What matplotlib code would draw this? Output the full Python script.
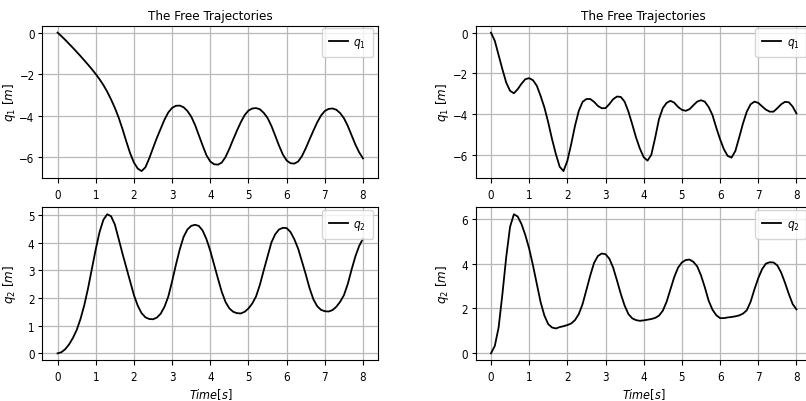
import numpy as np
import matplotlib
matplotlib.use("Agg")
import matplotlib.pyplot as plt

plt.rcParams['font.family'] = ['DejaVu Sans']
plt.rcParams['font.stretch'] = 'condensed'
plt.rcParams['mathtext.fontset'] = 'dejavusans'

# sample times [s]
time = np.round(np.arange(81) * 0.1, 1)

left_q1 = [0.00, -0.17, -0.35, -0.54, -0.73, -0.93, -1.13, -1.34, -1.55, -1.77,
           -2.00, -2.25, -2.53, -2.85, -3.22, -3.63, -4.10, -4.65, -5.25, -5.82,
           -6.27, -6.56, -6.68, -6.50, -6.07, -5.57, -5.08, -4.64, -4.20, -3.85,
           -3.63, -3.53, -3.52, -3.60, -3.78, -4.05, -4.45, -4.95, -5.45, -5.92,
           -6.22, -6.35, -6.37, -6.27, -6.00, -5.60, -5.15, -4.72, -4.32, -3.98,
           -3.76, -3.66, -3.64, -3.70, -3.87, -4.12, -4.50, -4.97, -5.45, -5.88,
           -6.17, -6.30, -6.32, -6.22, -5.96, -5.58, -5.15, -4.73, -4.33, -4.00,
           -3.78, -3.68, -3.66, -3.72, -3.88, -4.13, -4.50, -4.95, -5.40, -5.78,
           -6.07]

left_q2 = [0.00, 0.04, 0.15, 0.32, 0.55, 0.84, 1.24, 1.74, 2.36, 3.06,
           3.76, 4.38, 4.82, 5.02, 4.95, 4.65, 4.13, 3.60, 3.10, 2.60,
           2.10, 1.72, 1.45, 1.30, 1.24, 1.23, 1.29, 1.43, 1.68, 2.05,
           2.60, 3.20, 3.75, 4.20, 4.47, 4.60, 4.64, 4.60, 4.43, 4.12,
           3.70, 3.20, 2.70, 2.22, 1.85, 1.62, 1.50, 1.45, 1.44, 1.50,
           1.62, 1.80, 2.06, 2.48, 3.00, 3.50, 4.00, 4.30, 4.47, 4.53,
           4.52, 4.38, 4.12, 3.78, 3.32, 2.85, 2.35, 1.95, 1.70, 1.57,
           1.52, 1.51, 1.56, 1.68, 1.86, 2.10, 2.50, 3.02, 3.50, 3.88,
           4.14]

right_q1 = [0.00, -0.40, -1.10, -1.80, -2.45, -2.85, -2.97, -2.77, -2.50, -2.28,
            -2.23, -2.33, -2.60, -3.10, -3.67, -4.40, -5.22, -5.95, -6.57, -6.78,
            -6.28, -5.47, -4.57, -3.83, -3.39, -3.25, -3.25, -3.39, -3.59, -3.70,
            -3.70, -3.50, -3.26, -3.13, -3.15, -3.38, -3.87, -4.49, -5.14, -5.68,
            -6.10, -6.27, -5.98, -5.15, -4.24, -3.70, -3.44, -3.34, -3.43, -3.64,
            -3.78, -3.83, -3.75, -3.56, -3.38, -3.31, -3.38, -3.64, -4.03, -4.65,
            -5.22, -5.71, -6.04, -6.12, -5.80, -5.14, -4.45, -3.87, -3.51, -3.38,
            -3.44, -3.61, -3.77, -3.87, -3.87, -3.70, -3.51, -3.39, -3.41, -3.62,
            -3.96]

right_q2 = [0.00, 0.33, 1.15, 2.65, 4.30, 5.64, 6.20, 6.10, 5.76, 5.27,
            4.67, 3.92, 3.10, 2.28, 1.68, 1.30, 1.15, 1.11, 1.17, 1.21,
            1.26, 1.33, 1.48, 1.75, 2.20, 2.83, 3.47, 4.03, 4.34, 4.45,
            4.42, 4.22, 3.82, 3.25, 2.65, 2.13, 1.75, 1.56, 1.48, 1.45,
            1.47, 1.50, 1.53, 1.58, 1.68, 1.90, 2.30, 2.85, 3.40, 3.82,
            4.05, 4.16, 4.18, 4.08, 3.88, 3.48, 2.95, 2.35, 1.95, 1.70,
            1.57, 1.57, 1.60, 1.62, 1.65, 1.69, 1.77, 1.92, 2.30, 2.85,
            3.35, 3.75, 4.00, 4.06, 4.05, 3.92, 3.60, 3.15, 2.65, 2.20,
            1.96]

title = "The Free Trajectories"
label_q1 = r"$q_1$"
label_q2 = r"$q_2$"
ylabel_q1 = r"$q_1\ [m]$"
ylabel_q2 = r"$q_2\ [m]$"
xlabel = r"$Time[s]$"
xticks = [0, 1, 2, 3, 4, 5, 6, 7, 8]

W, H = 806, 402
fig = plt.figure(figsize=(W / 100, H / 100), dpi=100)

AX_W = 336.0
AX_H_TOP = 152.3

def ax_at(x0, y0, x1, y1):
    return fig.add_axes([x0 / W, 1 - y1 / H, (x1 - x0) / W, (y1 - y0) / H])

ax_tl = ax_at(42.3, 26.7, 378.3, 179.0)
ax_bl = ax_at(42.3, 208.3, 378.3, 361.3)
ax_tr = ax_at(475.7, 26.7, 811.7, 179.0)
ax_br = ax_at(475.7, 208.3, 811.7, 361.3)

panels = [
    (ax_tl, left_q1, label_q1, ylabel_q1, True),
    (ax_bl, left_q2, label_q2, ylabel_q2, False),
    (ax_tr, right_q1, label_q1, ylabel_q1, True),
    (ax_br, right_q2, label_q2, ylabel_q2, False),
]

for ax, data, lab, ylab, top in panels:
    ax.plot(time, data, color='black', lw=1.3, label=lab)
    ax.grid(True, color='#b8b8b8', lw=0.9)
    ax.set_xticks(xticks)
    ax.tick_params(labelsize=8.3)
    ax.tick_params(axis='y', length=3.0, pad=2.6)
    ax.set_ylabel(ylab, fontsize=9.5)
    ax.yaxis.set_label_coords((18.0 - 42.3) / AX_W, 0.5)
    ax.legend(loc='upper right', fontsize=8.5, handlelength=1.6,
              handletextpad=0.45, borderpad=0.6, borderaxespad=0.0,
              bbox_to_anchor=((373 - 42.3) / AX_W, 1 - (29 - 26.7) / AX_H_TOP))
    if top:
        ax.set_title(title, fontsize=9.6, pad=5)
    else:
        ax.set_xlabel(xlabel, fontsize=9, labelpad=2)

fig.savefig("out.png", dpi=100)
